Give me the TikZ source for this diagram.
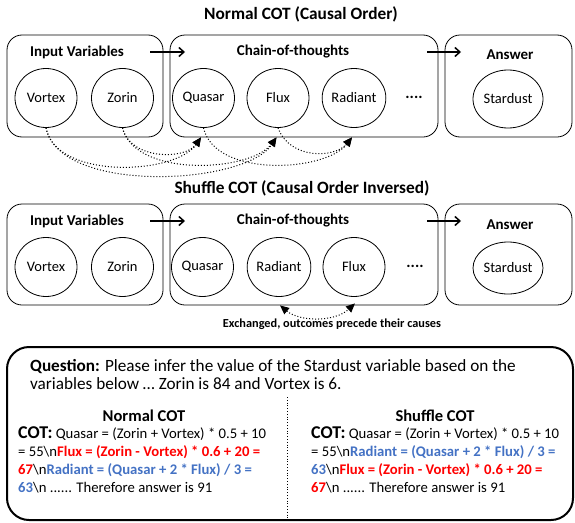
\documentclass[tikz,border=0pt]{standalone}
\usepackage{fontspec}
\setmainfont{Carlito}
\usetikzlibrary{arrows.meta,calc,shapes.geometric}
\definecolor{cred}{RGB}{255,0,0}
\definecolor{cblue}{RGB}{68,114,196}
\newcommand{\fs}[1]{\fontsize{#1}{#1}\selectfont}
\begin{document}
\begin{tikzpicture}[x=1pt,y=-1pt,
  panel/.style={draw,rounded corners=15,line width=0.8},
  var/.style={draw,ellipse,minimum width=62,minimum height=59,inner sep=0,line width=0.8,font=\fs{14.5}},
  hdr/.style={font=\bfseries\fs{15}},
  ttl/.style={font=\bfseries\fs{17.3}},
  flow/.style={line width=1.5,-{Straight Barb[length=5pt,width=9pt]}},
  dep/.style={dotted,line width=1,-{Triangle[length=9pt,width=8pt]}},
  cotline/.style={anchor=base west,inner sep=0,font=\fs{14.7}},
]
\useasboundingbox (0,0) rectangle (575,522);

% ---------- Normal COT ----------
\node[ttl] (t1) at (301,14) {Normal COT (Causal Order)};
\node[panel,minimum width=156,minimum height=102] (in1) at (85,86) {};
\node[panel,minimum width=268,minimum height=102] (ch1) at (304,86) {};
\node[panel,minimum width=127,minimum height=102] (an1) at (508.5,86) {};
\node[hdr] (h11) at (77,52) {Input Variables};
\node[hdr] (h12) at (293,52) {Chain-of-thoughts};
\node[hdr] (h13) at (510,55) {Answer};
\coordinate (f11) at (150,52); \coordinate (f12) at (185,52);
\coordinate (f13) at (427,52); \coordinate (f14) at (461,52);
\draw[flow] (f11) -- (f12);
\draw[flow] (f13) -- (f14);
\node[var] (vortex1) at (46,98) {Vortex};
\node[var] (zorin1) at (122.5,98) {Zorin};
\node[var] (quasar1) at (203.5,98) {Quasar};
\node[var] (flux1) at (278,98) {Flux};
\node[var] (radiant1) at (354,98) {Radiant};
\node[font=\bfseries\fs{16}] (dots1) at (414,97) {....};
\node[var,minimum width=70,minimum height=58] (star1) at (508,99) {Stardust};

\draw[dep] (vortex1.south) .. controls (56,180) and (175,175) .. ($(quasar1.south)+(-2.5,9.5)$);
\draw[dep] (vortex1.south) .. controls (60,195) and (245,185) .. ($(flux1.south)+(-1.5,9.5)$);
\draw[dep] (zorin1.south) .. controls (130,160) and (185,160) .. ($(quasar1.south)+(-2.5,9.5)$);
\draw[dep] (zorin1.south) .. controls (135,178) and (250,172) .. ($(flux1.south)+(-1.5,9.5)$);
\draw[dep] (quasar1.south) .. controls (215,178) and (325,172) .. ($(radiant1.south)+(-2,9.5)$);
\draw[dep] (flux1.south) .. controls (290,160) and (335,158) .. ($(radiant1.south)+(-2,9.5)$);

% ---------- Shuffle COT ----------
\node[ttl] (t2) at (302,188) {Shuffle COT (Causal Order Inversed)};
\node[panel,minimum width=156,minimum height=101] (in2) at (85,254.5) {};
\node[panel,minimum width=268,minimum height=101] (ch2) at (304,254.5) {};
\node[panel,minimum width=127,minimum height=101] (an2) at (508.5,254.5) {};
\node[hdr] (h21) at (77,221) {Input Variables};
\node[hdr] (h22) at (293,221) {Chain-of-thoughts};
\node[hdr] (h23) at (510,225) {Answer};
\coordinate (f21) at (150,221); \coordinate (f22) at (185,221);
\coordinate (f23) at (427,221); \coordinate (f24) at (461,221);
\draw[flow] (f21) -- (f22);
\draw[flow] (f23) -- (f24);
\node[var] (vortex2) at (46,267) {Vortex};
\node[var] (zorin2) at (122.5,267) {Zorin};
\node[var] (quasar2) at (202.5,267) {Quasar};
\node[var] (radiant2) at (279,267) {Radiant};
\node[var] (flux2) at (354,267) {Flux};
\node[font=\bfseries\fs{16}] (dots2) at (415,266) {....};
\node[var,minimum width=70,minimum height=52] (star2) at (508,268) {Stardust};
\draw[dotted,line width=1,{Triangle[length=9pt,width=8pt]}-{Triangle[length=9pt,width=8pt]}]
  ($(radiant2.south)+(1,8.5)$) .. controls (300,322) and (335,322) .. ($(flux2.south)+(1,6.5)$);
\node[font=\bfseries\fs{12.3}] (exch) at (332,324) {Exchanged, outcomes precede their causes};

% ---------- Question panel ----------
\draw[line width=2,rounded corners=22] (7,347) rectangle (573,520);
\node[anchor=west,align=left,inner sep=0,font=\fontsize{17.2}{17.5}\selectfont] (q) at (30,374.5)
  {\textbf{Question:} Please infer the value of the Stardust variable based on the\\variables below … Zorin is 84 and Vortex is 6.};
\coordinate (d1) at (287,397); \coordinate (d2) at (287,520);
\draw[dotted,line width=0.8] (d1) -- (d2);
\node[font=\bfseries\fs{16.5}] (nc) at (144,416) {Normal COT};
\node[font=\bfseries\fs{16.5}] (sc) at (435,416) {Shuffle COT};

\node[cotline] (l1) at (18,438) {{\bfseries\fs{18}COT:} Quasar = (Zorin + Vortex) * 0.5 + 10};
\node[cotline] (l2) at (18,456) {= 55\textbackslash n\textcolor{cred}{\bfseries Flux = (Zorin - Vortex) * 0.6 + 20 =}};
\node[cotline] (l3) at (18,474) {\textcolor{cred}{\bfseries 67}\textbackslash n\textcolor{cblue}{\bfseries Radiant = (Quasar + 2 * Flux) / 3 =}};
\node[cotline] (l4) at (18,492) {\textcolor{cblue}{\bfseries 63}\textbackslash n ...... Therefore answer is 91};

\node[cotline] (r1) at (311,438) {{\bfseries\fs{18}COT:} Quasar = (Zorin + Vortex) * 0.5 + 10};
\node[cotline] (r2) at (311,456) {= 55\textbackslash n\textcolor{cblue}{\bfseries Radiant = (Quasar + 2 * Flux) / 3 =}};
\node[cotline] (r3) at (311,474) {\textcolor{cblue}{\bfseries 63}\textbackslash n\textcolor{cred}{\bfseries Flux = (Zorin - Vortex) * 0.6 + 20 =}};
\node[cotline] (r4) at (311,492) {\textcolor{cred}{\bfseries 67}\textbackslash n ...... Therefore answer is 91};
\end{tikzpicture}
\end{document}
